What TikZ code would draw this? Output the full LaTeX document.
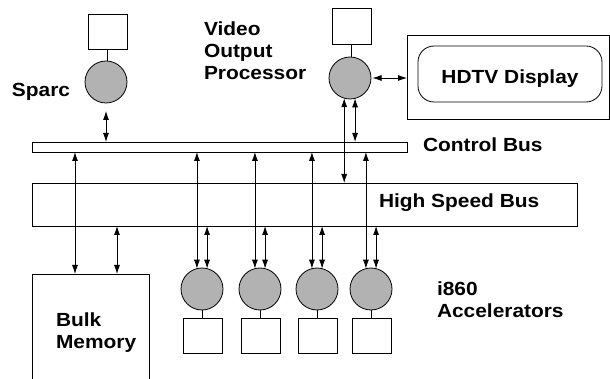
\documentclass[tikz,border=0pt]{standalone}
\usepackage{fontspec}
\setmainfont{Liberation Sans}[FakeStretch=1.1]
\usetikzlibrary{arrows.meta}
\begin{document}
\begin{tikzpicture}[x=1pt,y=-1pt,
  every node/.style={inner sep=0pt, outer sep=0pt},
  lbl/.style={font=\bfseries\fontsize{19}{22}\selectfont, align=left},
  sq/.style={draw, line width=0.8pt, minimum width=39pt, minimum height=35pt},
  proc/.style={draw, circle, fill=gray!60, line width=0.8pt, minimum size=42pt},
  bus/.style={draw, line width=0.8pt},
  conn/.style={line width=0.8pt},
  dbl/.style={line width=0.8pt, {Latex[length=9pt,width=6pt]}-{Latex[length=9pt,width=6pt]}}]
\path[use as bounding box] (0,0) rectangle (610,379);
\clip (0,0) rectangle (610,379);
% buses
\node[bus, minimum width=375pt, minimum height=10pt] (cbus) at (219.5,147) {};
\node[bus, minimum width=545pt, minimum height=43pt] (hsb) at (304.5,204.5) {};
% Sparc
\node[sq] (sbox) at (107.5,31.5) {};
\node[proc] (sparc) at (106,82) {};
\draw[conn] (sbox.south) -- (sbox.south |- sparc.north);
\draw[dbl] ([yshift=-8pt]sparc.south) -- (sparc.south |- cbus.north);
% Video output processor
\node[sq, minimum height=36pt] (vbox) at (351.5,26) {};
\node[proc] (vop) at (350,78) {};
\draw[conn] (vbox.south) -- (vbox.south |- vop.north);
\node[draw, line width=0.8pt, minimum width=202pt, minimum height=84pt] (disp) at (508,77) {};
\node[draw, line width=0.8pt, rounded corners=16pt, minimum width=184pt, minimum height=56pt,
  font=\bfseries\fontsize{19}{22}\selectfont, text height=19.6pt, text depth=0pt] (hdtv) at (510,74) {HDTV Display};
\draw[dbl] ([xshift=1.5pt]vop.east) -- (vop.east -| disp.west);
\draw[dbl] (vop.254) -- (vop.254 |- hsb.north);
\draw[dbl] (vop.284) -- (vop.284 |- cbus.north);
% Bulk memory
\node[draw, line width=0.8pt, minimum width=117pt, minimum height=120pt] (bulk) at (90.5,334) {};
\coordinate (bm1) at ([xshift=43pt]bulk.north west);
\coordinate (bm2) at ([xshift=85pt]bulk.north west);
\draw[dbl] (bm1 |- cbus.south) -- (bm1);
\draw[dbl] (bm2 |- hsb.south) -- (bm2);
% accelerators
\foreach \i/\x in {1/202,2/260,3/317,4/371}{
  \node[proc] (a\i) at (\x,289) {};
  \node[sq] (ab\i) at (\x+1,336) {};
  \draw[conn] (a\i.south) -- (a\i.south |- ab\i.north);
  \draw[dbl] (a\i.104 |- cbus.south) -- (a\i.104);
  \draw[dbl] (a\i.76 |- hsb.south) -- (a\i.76);
}
% labels
\node[lbl, anchor=base west] (lsparc) at (12,97) {Sparc};
\node[lbl, anchor=north west] (lvop) at (204,22.2) {Video\\Output\\Processor};
\node[lbl, anchor=base west] (lcbus) at (423,152) {Control Bus};
\node[lbl, anchor=base west] (lhsb) at (379,208) {High Speed Bus};
\node[lbl, anchor=north west] (lbulk) at (56,313) {Bulk\\Memory};
\node[lbl, anchor=north west] (lacc) at (437,282) {i860\\Accelerators};
\end{tikzpicture}
\end{document}
